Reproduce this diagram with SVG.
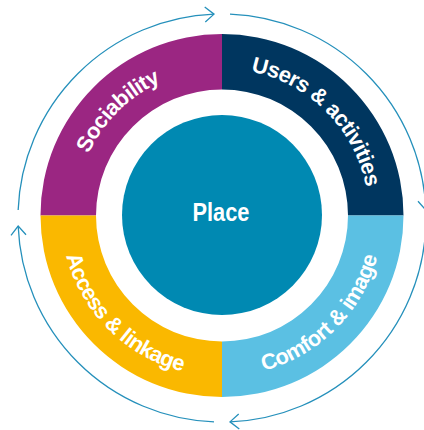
<svg xmlns="http://www.w3.org/2000/svg" width="424" height="430" viewBox="0 0 424 430">
<style>
.lbl{font-family:"Liberation Sans",Arial,sans-serif;font-weight:bold;fill:#ffffff;font-size:22px;letter-spacing:-0.6px}
.arc{fill:none;stroke:#2590bb;stroke-width:1.3}
</style>
<defs>
<marker id="ah" markerUnits="userSpaceOnUse" markerWidth="20" markerHeight="20" viewBox="-12 -10 14 20" refX="0" refY="0" orient="auto">
<path d="M-9 -7.5 L0 0 L-9 7.5" fill="none" stroke="#2590bb" stroke-width="1.3"/>
</marker>
<path id="pSoc" d="M88.8 277.6 A147 147 0 0 1 284.1 82.3"/>
<path id="pUse" d="M159.9 82.3 A147 147 0 0 1 355.2 277.6"/>
<path id="pAcc" d="M76.1 147.5 A161 161 0 0 0 290 361.4"/>
<path id="pCom" d="M154 361.4 A161 161 0 0 0 367.9 147.5"/>
</defs>
<rect width="424" height="430" fill="#ffffff"/>
<g id="connectors">
<path class="arc" d="M18.16 210 A204 204 0 0 1 214 14.16" marker-end="url(#ah)"/>
<path class="arc" d="M230 14.16 A204 204 0 0 1 425.84 210" marker-end="url(#ah)"/>
<path class="arc" d="M425.84 226 A204 204 0 0 1 230 421.84" marker-end="url(#ah)"/>
<path class="arc" d="M214 421.84 A204 204 0 0 1 18.16 226" marker-end="url(#ah)"/>
</g>
<g id="sociability">
<path d="M40.5 215.5 A181.5 181.5 0 0 1 222 34 L222 89.5 A126 126 0 0 0 96 215.5 Z" fill="#9b2682"/>
<text class="lbl" text-anchor="middle"><textPath href="#pSoc" startOffset="50%">Sociability</textPath></text>
</g>
<g id="users">
<path d="M222 34 A181.5 181.5 0 0 1 403.5 215.5 L348 215.5 A126 126 0 0 0 222 89.5 Z" fill="#00365f"/>
<text class="lbl" text-anchor="middle"><textPath href="#pUse" startOffset="50%">Users &amp; activities</textPath></text>
</g>
<g id="comfort">
<path d="M403.5 215.5 A181.5 181.5 0 0 1 222 397 L222 341.5 A126 126 0 0 0 348 215.5 Z" fill="#5bc0e3"/>
<text class="lbl" text-anchor="middle"><textPath href="#pCom" startOffset="50%">Comfort &amp; image</textPath></text>
</g>
<g id="access">
<path d="M222 397 A181.5 181.5 0 0 1 40.5 215.5 L96 215.5 A126 126 0 0 0 222 341.5 Z" fill="#fab800"/>
<text class="lbl" text-anchor="middle"><textPath href="#pAcc" startOffset="50%">Access &amp; linkage</textPath></text>
</g>
<g id="place">
<circle cx="222" cy="215" r="100" fill="#0089b2"/>
<text x="221" y="221" text-anchor="middle" class="lbl" style="font-size:25px;letter-spacing:0" textLength="57" lengthAdjust="spacingAndGlyphs">Place</text>
</g>
</svg>
